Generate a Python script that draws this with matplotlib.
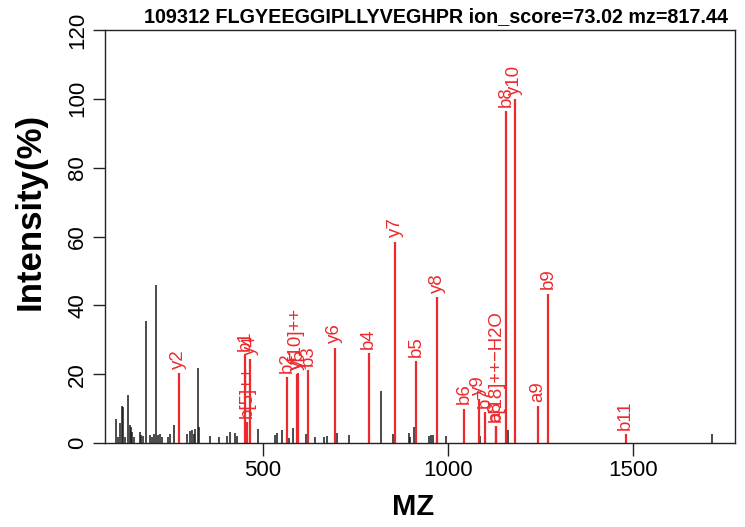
import matplotlib
matplotlib.use("Agg")
import matplotlib.pyplot as plt

# ---- data ----
title = "109312 FLGYEEGGIPLLYVEGHPR ion_score=73.02 mz=817.44"

black_mz = [102, 109, 114, 118, 122, 126, 136, 140, 143, 147, 152, 167, 171, 176,
            184, 194, 199, 205, 211, 215, 222, 228, 244, 249, 259, 296, 303, 308,
            313, 316, 324, 328, 356, 382, 404, 411, 424, 429, 487, 532, 539, 551,
            570, 580, 616, 641, 665, 674, 699, 733, 818, 852, 895, 898, 909, 949,
            955, 960, 994, 1088, 1163, 1713]
black_int = [6.9, 1.8, 5.9, 10.8, 10.6, 1.8, 14.0, 5.2, 4.7, 3.3, 1.8, 3.3, 2.3, 2.0,
             35.5, 2.3, 1.8, 2.6, 46.0, 2.3, 2.7, 1.8, 1.8, 2.6, 5.3, 2.7, 3.5, 3.7,
             2.6, 4.2, 21.9, 4.7, 2.0, 1.8, 2.0, 3.3, 2.8, 2.0, 4.0, 2.3, 3.0, 3.8,
             1.5, 4.5, 2.6, 1.8, 1.8, 2.0, 2.8, 2.3, 15.2, 2.6, 2.8, 1.7, 4.7, 2.0,
             2.3, 2.3, 2.0, 2.0, 3.8, 2.6]

ion_labels = ["y2", "b1", "b[5]++", "y4", "b2", "y[10]++", "y5", "b3", "y6", "b4",
              "y7", "b5", "y8", "b6", "y9", "b7", "a8", "b[18]++\u2212H2O", "b8",
              "y10", "a9", "b9", "b11"]
ion_mz = [272.17, 452.28, 457.75, 466.25, 565.37, 590.83, 595.30, 622.39, 694.36,
          785.45, 857.43, 914.49, 970.51, 1043.54, 1083.60, 1100.56, 1129.58,
          1129.59, 1157.58, 1180.65, 1242.67, 1270.66, 1480.80]
ion_int = [20.3, 25.6, 6.0, 24.4, 19.2, 20.1, 20.3, 21.2, 27.7, 26.1, 58.5, 23.8,
           42.4, 10.0, 12.8, 9.0, 5.0, 5.0, 96.5, 100.0, 10.7, 43.4, 2.6]

x_ticks = [500, 1000, 1500]
y_ticks = [0, 20, 40, 60, 80, 100, 120]

RED = "#ec2a2d"
FONT = ["Liberation Sans", "DejaVu Sans"]
plt.rcParams["font.family"] = FONT

W, H = 745, 527
fig = plt.figure(figsize=(W / 100, H / 100), dpi=100)
L, R, B, T = 105, 735, 443, 30
ax = fig.add_axes([L / W, 1 - B / H, (R - L) / W, (B - T) / H])

ax.vlines(black_mz, 0, black_int, colors="#1a1a1a", linewidth=1.1)
ax.vlines(ion_mz, 0, ion_int, colors=RED, linewidth=1.6)
for lab, m, v in zip(ion_labels, ion_mz, ion_int):
    ax.annotate(lab, xy=(m, v), xytext=(0, 3), textcoords="offset points",
                rotation=90, ha="center", va="bottom", color=RED, fontsize=13.4)

ax.set_xlim(73, 1776)
ax.set_ylim(0, 120)
ax.set_xticks(x_ticks)
ax.set_yticks(y_ticks)
ax.tick_params(axis="both", direction="out", length=9, width=1.0,
               labelsize=16, pad=3, color="#222222")
for lab in ax.get_yticklabels():
    lab.set_rotation(90)
    lab.set_va("center")
for s in ax.spines.values():
    s.set_linewidth(1.0)
    s.set_color("#222222")

fig.text(413 / W, 1 - 507 / H, "MZ", ha="center", va="center",
         fontsize=21, fontweight="bold")
fig.text(30 / W, 1 - 211 / H, "Intensity(%)", ha="center", va="center",
         rotation=90, fontsize=25, fontweight="bold")
fig.text(436 / W, 1 - 17 / H, title, ha="center", va="center",
         fontsize=14.2, fontweight="bold")

fig.savefig("out.png", dpi=100)
